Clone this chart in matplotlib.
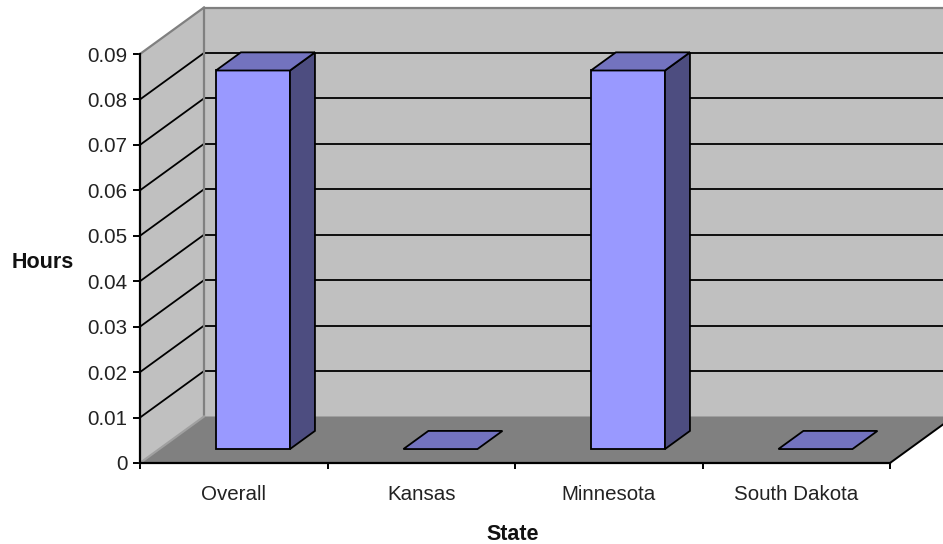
import numpy as np
import matplotlib
matplotlib.use("Agg")
import matplotlib.pyplot as plt
from matplotlib.patches import Polygon
from matplotlib.transforms import IdentityTransform

plt.rcParams['font.family'] = ['Liberation Sans', 'DejaVu Sans']

# hours per state
states = ["Overall", "Kansas", "Minnesota", "South Dakota"]
hours = [0.0833, 0.0, 0.0833, 0.0]
ytick_values = [0, 0.01, 0.02, 0.03, 0.04, 0.05, 0.06, 0.07, 0.08, 0.09]
ytick_labels = ["0", "0.01", "0.02", "0.03", "0.04", "0.05", "0.06", "0.07", "0.08", "0.09"]
y_max = 0.09

# oblique depth offset in pixels (full depth of the floor)
DEPTH_DX = 64
DEPTH_DY = 46.5
BAR_W = 0.395
BAR_D0, BAR_D1 = 0.30, 0.69

FRONT = "#9999FF"
TOP = "#7373BF"
SIDE = "#4D4D80"
WALL = "#C0C0C0"
FLOOR = "#808080"
EDGE = "#808080"

W, H = 943, 544
fig = plt.figure(figsize=(W / 100, H / 100), dpi=100)
ax = fig.add_axes([140 / W, (H - 463) / H, 750 / W, 409 / H])
ax.set_xlim(0, len(states))
ax.set_ylim(0, y_max)
ax.patch.set_visible(False)


def proj(x, v, d):
    px, py = ax.transData.transform((x, v))
    return (px + DEPTH_DX * d, py + DEPTH_DY * d)


def face(pts, color, ec="black", lw=1.3, z=1):
    ax.add_patch(Polygon(pts, closed=True, facecolor=color, edgecolor=ec,
                         linewidth=lw, transform=IdentityTransform(),
                         clip_on=False, zorder=z))


def seg(p, q, color="black", lw=1.3, z=2):
    ax.add_line(plt.Line2D([p[0], q[0]], [p[1], q[1]], color=color, lw=lw,
                           transform=IdentityTransform(), clip_on=False, zorder=z))


n = len(states)
# walls and floor
face([proj(0, 0, 1), proj(n, 0, 1), proj(n, y_max, 1), proj(0, y_max, 1)], WALL, ec="none", z=0)
face([proj(0, 0, 0), proj(0, 0, 1), proj(0, y_max, 1), proj(0, y_max, 0)], WALL, ec="none", z=0)
face([proj(0, 0, 0), proj(n, 0, 0), proj(n, 0, 1), proj(0, 0, 1)], FLOOR, ec="none", z=0)

# gridlines on left and back walls
for v in ytick_values[1:-1]:
    seg(proj(0, v, 0), proj(0, v, 1))
    seg(proj(0, v, 1), proj(n, v, 1))

# wall edges
seg(proj(0, y_max, 0), proj(0, y_max, 1), EDGE, 1.6)
seg(proj(0, y_max, 1), proj(n, y_max, 1), EDGE, 1.6)
seg(proj(0, 0, 1), proj(0, y_max, 1), EDGE, 1.6)
seg(proj(0, 0, 0), proj(0, 0, 1), "#A0A0A0", 1.6)
seg(proj(n, 0, 0), proj(n, 0, 1), "black", 1.4)

# bars
for i, v in enumerate(hours):
    x0 = i + 0.5 - BAR_W / 2
    x1 = i + 0.5 + BAR_W / 2
    front = [proj(x0, 0, BAR_D0), proj(x1, 0, BAR_D0), proj(x1, v, BAR_D0), proj(x0, v, BAR_D0)]
    top = [proj(x0, v, BAR_D0), proj(x1, v, BAR_D0), proj(x1, v, BAR_D1), proj(x0, v, BAR_D1)]
    side = [proj(x1, 0, BAR_D0), proj(x1, 0, BAR_D1), proj(x1, v, BAR_D1), proj(x1, v, BAR_D0)]
    if v > 0:
        face(front, FRONT, z=3)
        face(side, SIDE, z=3)
    face(top, TOP, z=3)

# axes
for s in ["top", "right"]:
    ax.spines[s].set_visible(False)
for s in ["left", "bottom"]:
    ax.spines[s].set_linewidth(1.6)
    ax.spines[s].set_zorder(5)

ax.set_yticks(ytick_values)
ax.set_yticklabels(ytick_labels)
ax.tick_params(axis="y", direction="out", length=5, width=1.4, pad=4,
               labelsize=14.8, colors="black", labelcolor="#222222")
ax.set_xticks(np.arange(n + 1))
ax.set_xticklabels([])
ax.set_xticks(np.arange(n) + 0.5, minor=True)
ax.set_xticklabels(states, minor=True)
ax.tick_params(axis="x", which="major", direction="out", length=4.5, width=1.4)
ax.tick_params(axis="x", which="minor", length=0, pad=16, labelsize=14.8,
               labelcolor="#222222")

fig.text(42.5 / W, 1 - 263 / H, "Hours", fontsize=15.5, fontweight="bold",
         ha="center", va="center", color="#111111")
fig.text(513 / W, 1 - 535 / H, "State", fontsize=15.5, fontweight="bold",
         ha="center", va="center", color="#111111")

fig.savefig("out.png", dpi=100)
